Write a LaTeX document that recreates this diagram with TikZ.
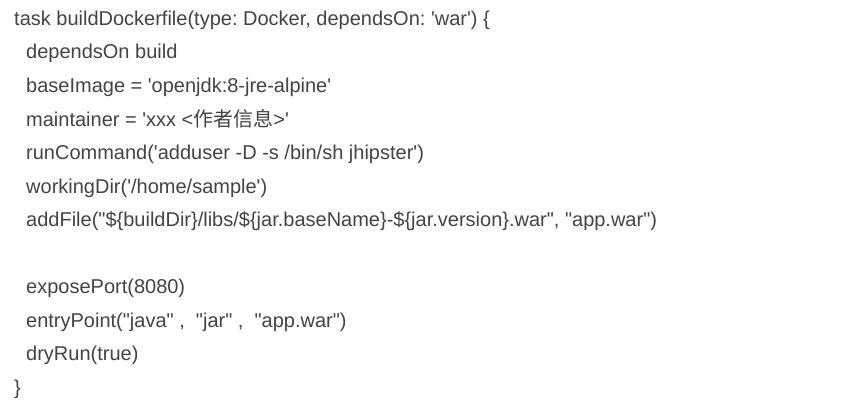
\documentclass[tikz,border=0pt]{standalone}
\usepackage{fontspec}
\newfontfamily\codefont{Liberation Sans}[Ligatures=TeXOff]
\newfontfamily\cjk{Noto Sans CJK SC}
\usetikzlibrary{positioning}
\definecolor{codegray}{RGB}{68,68,68}
\tikzset{codeline/.style={anchor=base west, inner sep=0pt, text=codegray,
    font=\codefont\fontsize{20}{24}\selectfont\frenchspacing}}

\begin{document}
\begin{tikzpicture}[x=1pt,y=-1pt]
        \useasboundingbox[fill=white] (0,0) rectangle (865,408);

        % Task header
        \node[codeline] (task) at (14,25.4) {task buildDockerfile(type: Docker, dependsOn: 'war') \{};

        % Task body
        \node[codeline] (dependson) at (26,58.95) {dependsOn build};
        \node[codeline] (baseimage) at (26,92.5) {baseImage = 'openjdk:8-jre-alpine'};
        \node[codeline] (maintainer) at (26,126.05) {maintainer = 'xxx <{\cjk 作者信息}>'};
        \node[codeline] (runcmd) at (26,159.6) {runCommand('adduser -D -s /bin/sh jhipster')};
        \node[codeline] (workdir) at (26,193.15) {workingDir('/home/sample')};
        \node[codeline] (addfile) at (26,226.7) {addFile("\$\{buildDir\}/libs/\$\{jar.baseName\}-\$\{jar.version\}.war", "app.war")};

        \node[codeline] (expose) at (26,293.8) {exposePort(8080)};
        \node[codeline] (entry) at (26,327.35) {entryPoint("java" ,\ \ "jar" ,\ \ "app.war")};
        \node[codeline] (dryrun) at (26,360.9) {dryRun(true)};

        % Closing brace
        \node[codeline] (close) at (14,394.45) {\}};
    \end{tikzpicture}
\end{document}
